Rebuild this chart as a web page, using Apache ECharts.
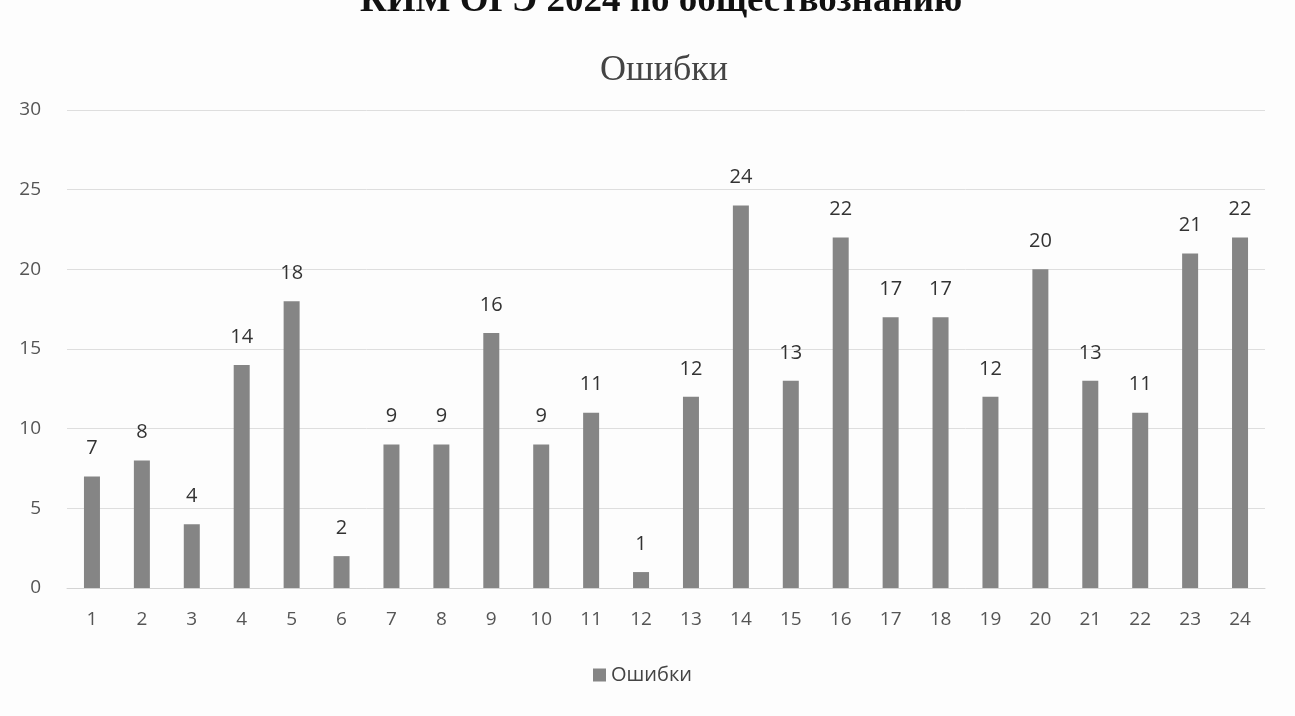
<!DOCTYPE html>
<html><head><meta charset="utf-8">
<script src="https://cdn.jsdelivr.net/npm/echarts@6/dist/echarts.min.js"></script>
<style>html,body{margin:0;padding:0;background:#fff}#c{width:1295px;height:716px}</style>
</head><body><div id="c"></div>
<script>
const categories = ['1','2','3','4','5','6','7','8','9','10','11','12','13','14','15','16','17','18','19','20','21','22','23','24'];
const errors = [7,8,4,14,18,2,9,9,16,9,11,1,12,24,13,22,17,17,12,20,13,11,21,22];
const seriesName = 'Ошибки';
const headerText = 'КИМ ОГЭ 2024 по обществознанию';

const chart = echarts.init(document.getElementById('c'));
chart.setOption({
  backgroundColor: '#fdfdfd',
  title: [
    { text: headerText, left: 355, top: -22, textStyle: { fontFamily: 'Liberation Serif', fontWeight: 'bold', fontSize: 37, color: '#111' } },
    { text: 'Ошибки', left: 595, top: 48, textStyle: { fontFamily: 'Liberation Serif', fontWeight: 'normal', fontSize: 36, color: '#444' } }
  ],
  legend: {
    data: [seriesName], bottom: 26, left: 588, icon: 'rect', itemWidth: 13, itemHeight: 13, itemGap: 4,
    textStyle: { fontFamily: 'Open Sans', fontSize: 20, color: '#444' }
  },
  grid: { left: 67, right: 30, top: 110, bottom: 128 },
  xAxis: {
    type: 'category', data: categories,
    axisLine: { lineStyle: { color: '#d4d4d4' } }, axisTick: { show: false },
    axisLabel: { fontFamily: 'Open Sans', fontSize: 19, color: '#555', margin: 22 }
  },
  yAxis: {
    type: 'value', min: 0, max: 30, interval: 5,
    axisLine: { show: false }, axisTick: { show: false },
    splitLine: { lineStyle: { color: '#dedede' } },
    axisLabel: { fontFamily: 'Open Sans', fontSize: 19, color: '#555', margin: 26 }
  },
  series: [{
    name: seriesName, type: 'bar', data: errors, barWidth: 16,
    itemStyle: { color: '#858585' },
    label: { show: true, position: 'top', distance: 18, fontFamily: 'Open Sans', fontSize: 20, color: '#333' }
  }]
});
</script></body></html>
